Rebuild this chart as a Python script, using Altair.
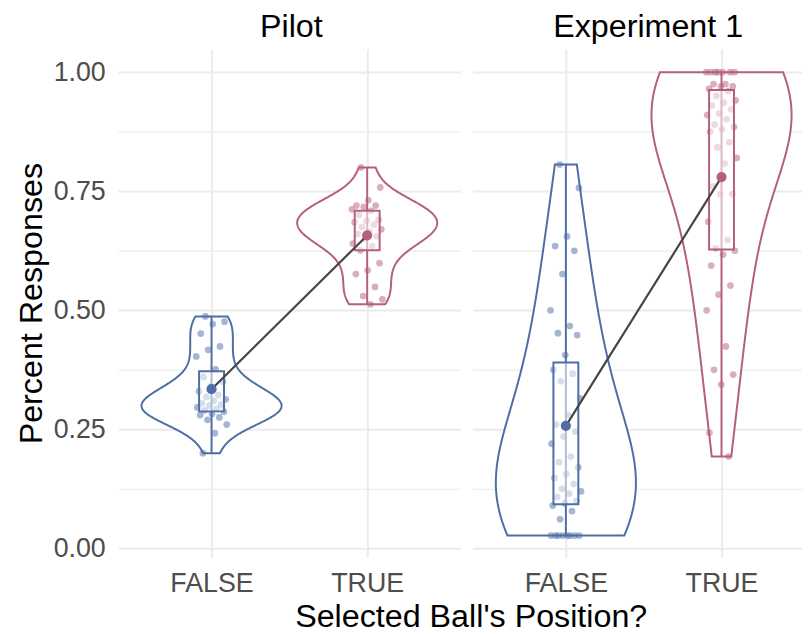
import altair as alt
import numpy as np
import pandas as pd

FONT = "Liberation Sans"
BLUE = "#4E6EA5"
RED = "#B4607A"

panels = ["Pilot", "Experiment 1"]
conditions = ["FALSE", "TRUE"]

pilot_false = [0.487, 0.476, 0.471, 0.451, 0.424, 0.417, 0.403, 0.376, 0.36, 0.35,
               0.34, 0.33, 0.322, 0.318, 0.313, 0.31, 0.305, 0.302, 0.30, 0.296,
               0.293, 0.29, 0.287, 0.283, 0.28, 0.275, 0.27, 0.26, 0.242, 0.2]
pilot_true = [0.80, 0.758, 0.731, 0.72, 0.72, 0.717, 0.712, 0.709, 0.70, 0.69,
              0.688, 0.685, 0.68, 0.675, 0.67, 0.665, 0.66, 0.655, 0.65, 0.64,
              0.635, 0.626, 0.599, 0.584, 0.576, 0.549, 0.53, 0.523, 0.5125]
exp1_false = [0.806, 0.757, 0.655, 0.635, 0.625, 0.576, 0.50, 0.467, 0.452, 0.448,
              0.406, 0.375, 0.367, 0.351, 0.315, 0.28, 0.26, 0.245, 0.235, 0.22,
              0.193, 0.181, 0.17, 0.156, 0.148, 0.135, 0.125, 0.12, 0.115, 0.108,
              0.10, 0.095, 0.09, 0.0785, 0.061, 0.027, 0.027, 0.027, 0.027, 0.027,
              0.027, 0.027, 0.027]
exp1_true = [1.0, 1.0, 1.0, 1.0, 1.0, 1.0, 1.0, 0.975, 0.975, 0.97,
             0.97, 0.965, 0.96, 0.95, 0.941, 0.936, 0.93, 0.922, 0.913, 0.91,
             0.901, 0.89, 0.885, 0.88, 0.875, 0.853, 0.842, 0.82, 0.808, 0.76,
             0.744, 0.744, 0.686, 0.648, 0.63, 0.625, 0.617, 0.594, 0.552, 0.533,
             0.50, 0.424, 0.375, 0.365, 0.344, 0.243, 0.193]

groups = {
    ("Pilot", "FALSE"): pilot_false,
    ("Pilot", "TRUE"): pilot_true,
    ("Experiment 1", "FALSE"): exp1_false,
    ("Experiment 1", "TRUE"): exp1_true,
}

# kernel bandwidth adjustment per panel (like ggplot's `adjust`)
adjust = {"Pilot": 1.1, "Experiment 1": 1.55}

rows = []
for (panel, cond), vals in groups.items():
    for i, v in enumerate(vals):
        rows.append({"panel": panel, "cond": cond,
                     "pos": 1 if cond == "FALSE" else 2, "i": i, "value": v})
df = pd.DataFrame(rows)


def bandwidth(v, adj):
    v = np.asarray(v, dtype=float)
    sd = v.std(ddof=1)
    q75, q25 = np.percentile(v, [75, 25])
    return float(adj * 0.9 * min(sd, (q75 - q25) / 1.34) * len(v) ** -0.2)


cscale = alt.Scale(domain=conditions, range=[BLUE, RED])
yscale = alt.Scale(domain=[-0.0185, 1.0485], nice=False, zero=False)
yvals = [k * 0.125 for k in range(9)]
gridw = {"condition": {"test": "(datum.value*4) % 1 != 0", "value": 1.2}, "value": 2}


def y_axis(show):
    if show:
        return alt.Axis(values=yvals, title="Percent Responses",
                        labelExpr="(datum.value*4) % 1 == 0 ? format(datum.value, '.2f') : ''",
                        gridWidth=gridw, labelPadding=13, titlePadding=5)
    return alt.Axis(values=yvals, title=None, labels=False, gridWidth=gridw)


x_axis = alt.Axis(values=[1, 2], labelExpr="datum.value == 1 ? 'FALSE' : 'TRUE'",
                  title=None, gridWidth=2, labelPadding=14)


def panel_chart(name, show_y, width, xmax, tdx):
    xscale = alt.Scale(domain=[0.4, xmax], nice=False, zero=False)
    yax = y_axis(show_y)

    def X(f):
        return alt.X(f, type="quantitative", scale=xscale, axis=x_axis)

    def Y(f):
        return alt.Y(f, type="quantitative", scale=yscale, axis=yax)

    base = alt.Chart(df).transform_filter(alt.datum.panel == name)
    layers = []
    for cond, col in zip(conditions, [BLUE, RED]):
        pos = 1 if cond == "FALSE" else 2
        v = (alt.Chart(df)
             .transform_filter((alt.datum.panel == name) & (alt.datum.cond == cond))
             .transform_density("value", as_=["value", "density"],
                                bandwidth=bandwidth(groups[(name, cond)], adjust[name]),
                                steps=200)
             .transform_joinaggregate(maxd="max(density)")
             .transform_calculate(xl=f"{pos} - 0.45*datum.density/datum.maxd",
                                  xr=f"{pos} + 0.45*datum.density/datum.maxd")
             .mark_area(orient="horizontal", fill="white", stroke=col, strokeWidth=2)
             .encode(y=Y("value"), x=X("xl"), x2="xr:Q"))
        layers.append(v)

    whisk = (base.transform_aggregate(lo="min(value)", hi="max(value)", groupby=["cond", "pos"])
             .mark_rule(strokeWidth=2)
             .encode(x=X("pos"), y=Y("lo"), y2="hi:Q",
                     color=alt.Color("cond:N", scale=cscale, legend=None)))
    pts = (base.transform_calculate(jx="datum.pos + ((datum.i*0.618034 + 0.3) % 1 - 0.5)*0.2")
           .mark_circle(size=46, opacity=0.5)
           .encode(x=X("jx"), y=Y("value"),
                   color=alt.Color("cond:N", scale=cscale, legend=None)))
    box = (base.transform_aggregate(q1="q1(value)", q3="q3(value)", groupby=["cond", "pos"])
           .transform_calculate(bl="datum.pos - 0.08", br="datum.pos + 0.08")
           .mark_rect(fill="white", fillOpacity=0.55, strokeWidth=2)
           .encode(x=X("bl"), x2="br:Q", y=Y("q1"), y2="q3:Q",
                   stroke=alt.Stroke("cond:N", scale=cscale, legend=None)))
    means = base.transform_aggregate(m="mean(value)", groupby=["cond", "pos"])
    mline = means.mark_line(color="#454545", strokeWidth=2.2).encode(x=X("pos"), y=Y("m"))
    mdots = (means.mark_circle(size=105, opacity=1)
             .encode(x=X("pos"), y=Y("m"),
                     color=alt.Color("cond:N", scale=cscale, legend=None)))
    layers += [whisk, pts, box, mline, mdots]
    return alt.layer(*layers).properties(
        width=width, height=512,
        title=alt.TitleParams(name, fontSize=32.5, fontWeight="normal", anchor="middle",
                              frame="group", color="black", font=FONT, offset=6,
                              baseline="top", dx=tdx))


left = panel_chart("Pilot", True, 345, 2.6, 2)
right = panel_chart("Experiment 1", False, 332, 0.4 + 332 / 156.82, 11)

chart = (alt.hconcat(left, right, spacing=12)
         .properties(
             title=alt.TitleParams("Selected Ball's Position?", orient="bottom", anchor="middle",
                                   fontSize=32.5, fontWeight="normal", color="black", font=FONT,
                                   offset=4, baseline="top", dx=63),
             padding={"left": 7, "top": 0, "right": 0, "bottom": 0})
         .configure_view(stroke=None)
         .configure_axis(gridColor="#EBEBEB", domain=False, ticks=False, tickSize=0,
                         labelFont=FONT, titleFont=FONT, labelFontSize=27,
                         labelColor="#4D4D4D", titleFontSize=32.5, titleFontWeight="normal",
                         titleColor="black"))

chart.save("out.html", embed_options={"renderer": "svg", "actions": False})
